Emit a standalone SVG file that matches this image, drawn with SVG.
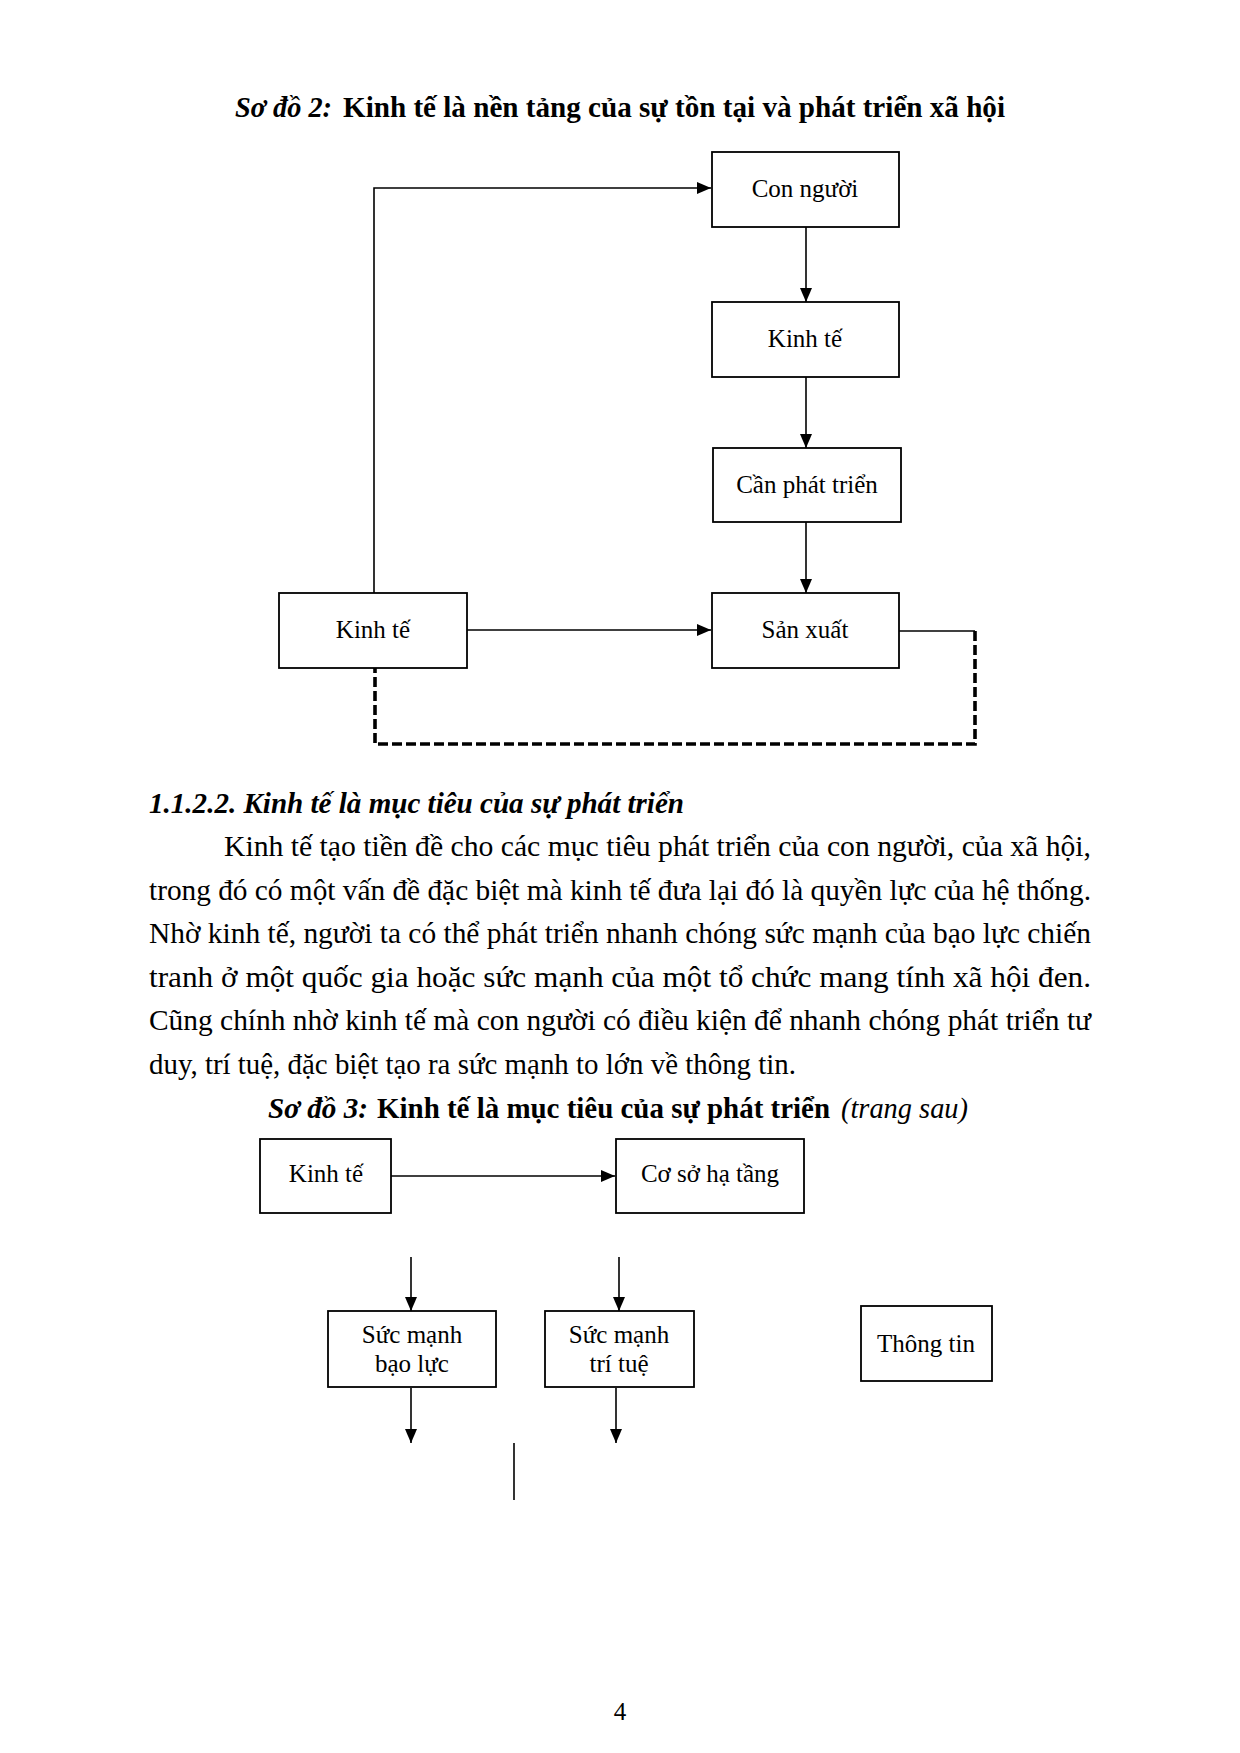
<svg xmlns="http://www.w3.org/2000/svg" width="1240" height="1753" viewBox="0 0 1240 1753">
<style>
  .box{fill:#fff;stroke:#000;stroke-width:1.8}
  .lbl{font-family:"Liberation Serif","Times New Roman",serif;font-size:25px;fill:#000;text-anchor:middle}
  .txt{font-family:"Liberation Serif","Times New Roman",serif;font-size:30px;fill:#000}
  .b{font-weight:bold}
  .i{font-style:italic}
  .con{fill:none;stroke:#000;stroke-width:1.6}
  .dash{fill:none;stroke:#000;stroke-width:3.6;stroke-dasharray:10 4}
</style>
<defs>
  <marker id="ah" markerWidth="15" markerHeight="12" refX="14" refY="6" orient="auto" markerUnits="userSpaceOnUse">
    <path d="M0,0 L14,6 L0,12 z" fill="#000"/>
  </marker>
</defs>
<rect width="1240" height="1753" fill="#fff"/>

<text class="txt b i" x="235" y="117" textLength="97" lengthAdjust="spacingAndGlyphs">Sơ đồ 2:</text>
<text class="txt b" x="343" y="117" textLength="662" lengthAdjust="spacingAndGlyphs">Kinh tế là nền tảng của sự tồn tại và phát triển xã hội</text>

<g id="connectors1">
  <path class="con" d="M374,593 V188 H711" marker-end="url(#ah)"/>
  <path class="con" d="M806,227 V302" marker-end="url(#ah)"/>
  <path class="con" d="M806,377 V448" marker-end="url(#ah)"/>
  <path class="con" d="M806,522 V593" marker-end="url(#ah)"/>
  <path class="con" d="M467,630 H711" marker-end="url(#ah)"/>
  <path class="con" d="M899,631 H975"/>
  <path class="dash" d="M975,631 V744 H375 V668"/>
</g>

<g id="n-connguoi"><rect class="box" x="712" y="152" width="187" height="75"/><text class="lbl" x="805" y="197">Con người</text></g>
<g id="n-kinhte1"><rect class="box" x="712" y="302" width="187" height="75"/><text class="lbl" x="805" y="347">Kinh tế</text></g>
<g id="n-canphattrien"><rect class="box" x="713" y="448" width="188" height="74"/><text class="lbl" x="807" y="493">Cần phát triển</text></g>
<g id="n-sanxuat"><rect class="box" x="712" y="593" width="187" height="75"/><text class="lbl" x="805" y="638">Sản xuất</text></g>
<g id="n-kinhte2"><rect class="box" x="279" y="593" width="188" height="75"/><text class="lbl" x="373" y="638">Kinh tế</text></g>

<text class="txt b i" x="149" y="813" textLength="535" lengthAdjust="spacingAndGlyphs">1.1.2.2. Kinh tế là mục tiêu của sự phát triển</text>
<text class="txt" x="224" y="856" textLength="867" lengthAdjust="spacingAndGlyphs">Kinh tế tạo tiền đề cho các mục tiêu phát triển của con người, của xã hội,</text>
<text class="txt" x="149" y="900" textLength="942" lengthAdjust="spacingAndGlyphs">trong đó có một vấn đề đặc biệt mà kinh tế đưa lại đó là quyền lực của hệ thống.</text>
<text class="txt" x="149" y="943" textLength="942" lengthAdjust="spacingAndGlyphs">Nhờ kinh tế, người ta có thể phát triển nhanh chóng sức mạnh của bạo lực chiến</text>
<text class="txt" x="149" y="987" textLength="942" lengthAdjust="spacingAndGlyphs">tranh ở một quốc gia hoặc sức mạnh của một tổ chức mang tính xã hội đen.</text>
<text class="txt" x="149" y="1030" textLength="942" lengthAdjust="spacingAndGlyphs">Cũng chính nhờ kinh tế mà con người có điều kiện để nhanh chóng phát triển tư</text>
<text class="txt" x="149" y="1074" textLength="647" lengthAdjust="spacingAndGlyphs">duy, trí tuệ, đặc biệt tạo ra sức mạnh to lớn về thông tin.</text>

<text class="txt b i" x="268" y="1118" textLength="100" lengthAdjust="spacingAndGlyphs">Sơ đồ 3:</text>
<text class="txt b" x="377" y="1118" textLength="453" lengthAdjust="spacingAndGlyphs">Kinh tế là mục tiêu của sự phát triển</text>
<text class="txt i" x="841" y="1118" textLength="127" lengthAdjust="spacingAndGlyphs">(trang sau)</text>

<g id="connectors2">
  <path class="con" d="M391,1176 H615" marker-end="url(#ah)"/>
  <path class="con" d="M411,1257 V1311" marker-end="url(#ah)"/>
  <path class="con" d="M619,1257 V1311" marker-end="url(#ah)"/>
  <path class="con" d="M411,1388 V1443" marker-end="url(#ah)"/>
  <path class="con" d="M616,1388 V1443" marker-end="url(#ah)"/>
  <path class="con" d="M514,1443 V1500"/>
</g>

<g id="n-kinhte3"><rect class="box" x="260" y="1139" width="131" height="74"/><text class="lbl" x="326" y="1182">Kinh tế</text></g>
<g id="n-cosohatang"><rect class="box" x="616" y="1139" width="188" height="74"/><text class="lbl" x="710" y="1182">Cơ sở hạ tầng</text></g>
<g id="n-baoluc"><rect class="box" x="328" y="1311" width="168" height="76"/><text class="lbl" x="412" y="1343">Sức mạnh</text><text class="lbl" x="412" y="1372">bạo lực</text></g>
<g id="n-tritue"><rect class="box" x="545" y="1311" width="149" height="76"/><text class="lbl" x="619" y="1343">Sức mạnh</text><text class="lbl" x="619" y="1372">trí tuệ</text></g>
<g id="n-thongtin"><rect class="box" x="861" y="1306" width="131" height="75"/><text class="lbl" x="926" y="1352">Thông tin</text></g>

<text class="lbl" x="620" y="1720">4</text>
</svg>
